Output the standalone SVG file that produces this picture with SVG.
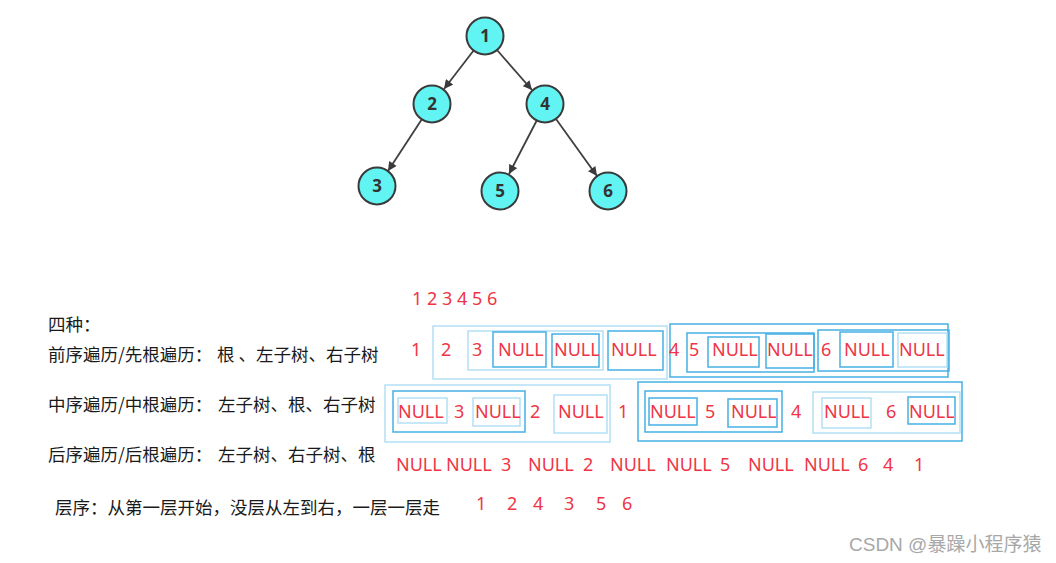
<svg xmlns="http://www.w3.org/2000/svg" width="1056" height="563" viewBox="0 0 1056 563">
<defs>
<marker id="ah" viewBox="0 0 10 10" refX="10" refY="5" markerWidth="10" markerHeight="9" markerUnits="userSpaceOnUse" orient="auto">
<path d="M0,0 L10,5 L0,10 z" fill="#3a3a3a"/>
</marker>
</defs>
<style>
.node circle{fill:#62f3f3;stroke:#3a3a3a;stroke-width:2}
.node text{font-family:"Open Sans","Noto Sans",sans-serif;font-weight:bold;font-size:17px;fill:#333;text-anchor:middle}
.edge{stroke:#3f3f3f;stroke-width:1.8;fill:none;marker-end:url(#ah)}
.lb{fill:none;stroke:#b2e0f5;stroke-width:1.5}
.bb{fill:none;stroke:#45b0e4;stroke-width:1.5}
.r{font-family:"Noto Sans","Open Sans",sans-serif;font-size:18px;fill:#ef3545}
.k{font-family:"Noto Sans CJK SC","Noto Sans",sans-serif;font-size:17.5px;fill:#1a1a1a}
.wm{font-family:"Liberation Sans","Noto Sans CJK SC",sans-serif;font-size:19px;fill:#a8a8a8}
</style>
<rect width="1056" height="563" fill="#ffffff"/>
<g id="connectors">
<line class="edge" x1="474" y1="50" x2="444" y2="89"/>
<line class="edge" x1="497" y1="50" x2="532" y2="90"/>
<line class="edge" x1="422" y1="119" x2="388" y2="171"/>
<line class="edge" x1="537" y1="120" x2="509" y2="174"/>
<line class="edge" x1="556" y1="119" x2="597" y2="176"/>
</g>
<g id="n1" class="node"><circle cx="485" cy="36" r="18.5"/><text x="485" y="42">1</text></g>
<g id="n2" class="node"><circle cx="432" cy="104" r="18.5"/><text x="432" y="110">2</text></g>
<g id="n4" class="node"><circle cx="545" cy="104" r="18.5"/><text x="545" y="110">4</text></g>
<g id="n3" class="node"><circle cx="377" cy="186" r="18.5"/><text x="377" y="192">3</text></g>
<g id="n5" class="node"><circle cx="500" cy="191" r="18.5"/><text x="500" y="197">5</text></g>
<g id="n6" class="node"><circle cx="608" cy="191" r="18.5"/><text x="608" y="197">6</text></g>
<g id="labels">
<text class="k" x="48" y="331">四种：</text>
<text class="k" x="48" y="361">前序遍历/先根遍历：</text>
<text class="k" x="217" y="361">根 、左子树、右子树</text>
<text class="k" x="48" y="411">中序遍历/中根遍历：</text>
<text class="k" x="218" y="411">左子树、根、右子树</text>
<text class="k" x="48" y="461">后序遍历/后根遍历：</text>
<text class="k" x="218" y="461">左子树、右子树、根</text>
<text class="k" x="55" y="514">层序：从第一层开始，没层从左到右，一层一层走</text>
</g>
<g id="boxes">
<rect class="lb" x="433" y="326" width="234" height="53"/>
<rect class="lb" x="468" y="331" width="135" height="39"/>
<rect class="bb" x="493" y="332" width="53" height="35"/>
<rect class="bb" x="552" y="334" width="47" height="33"/>
<rect class="bb" x="608" y="331" width="55" height="39"/>
<rect class="bb" x="670" y="324" width="278" height="53"/>
<rect class="bb" x="687" y="333" width="127" height="39"/>
<rect class="bb" x="708" y="337" width="51" height="30"/>
<rect class="bb" x="766" y="334" width="48" height="34"/>
<rect class="bb" x="818" y="330" width="131" height="41"/>
<rect class="bb" x="840" y="332" width="53" height="35"/>
<rect class="lb" x="898" y="333" width="49" height="34"/>
<rect class="lb" x="385" y="385" width="225" height="57"/>
<rect class="bb" x="393" y="391" width="132" height="41"/>
<rect class="lb" x="398" y="398" width="49" height="25"/>
<rect class="lb" x="473" y="398" width="47" height="28"/>
<rect class="lb" x="554" y="395" width="53" height="38"/>
<rect class="bb" x="638" y="382" width="324" height="59"/>
<rect class="bb" x="645" y="391" width="137" height="41"/>
<rect class="bb" x="649" y="398" width="48" height="27"/>
<rect class="bb" x="728" y="399" width="49" height="28"/>
<rect class="lb" x="813" y="392" width="147" height="41"/>
<rect class="lb" x="822" y="398" width="49" height="30"/>
<rect class="bb" x="908" y="397" width="47" height="27"/>
</g>
<g id="sequences">
<text class="r" x="412" y="305">1 2 3 4 5 6</text>
<text class="r" x="411" y="356">1</text>
<text class="r" x="441" y="356">2</text>
<text class="r" x="472" y="356">3</text>
<text class="r" x="498" y="356">NULL</text>
<text class="r" x="554" y="356">NULL</text>
<text class="r" x="611" y="356">NULL</text>
<text class="r" x="669" y="356">4</text>
<text class="r" x="689" y="356">5</text>
<text class="r" x="712" y="356">NULL</text>
<text class="r" x="767" y="356">NULL</text>
<text class="r" x="821" y="356">6</text>
<text class="r" x="844" y="356">NULL</text>
<text class="r" x="899" y="356">NULL</text>
<text class="r" x="398" y="418">NULL</text>
<text class="r" x="454" y="418">3</text>
<text class="r" x="475" y="418">NULL</text>
<text class="r" x="530" y="418">2</text>
<text class="r" x="558" y="418">NULL</text>
<text class="r" x="618" y="418">1</text>
<text class="r" x="650" y="418">NULL</text>
<text class="r" x="705" y="418">5</text>
<text class="r" x="731" y="418">NULL</text>
<text class="r" x="791" y="418">4</text>
<text class="r" x="824" y="418">NULL</text>
<text class="r" x="886" y="418">6</text>
<text class="r" x="909" y="418">NULL</text>
<text class="r" x="396" y="471">NULL</text>
<text class="r" x="446" y="471">NULL</text>
<text class="r" x="501" y="471">3</text>
<text class="r" x="528" y="471">NULL</text>
<text class="r" x="583" y="471">2</text>
<text class="r" x="610" y="471">NULL</text>
<text class="r" x="666" y="471">NULL</text>
<text class="r" x="720" y="471">5</text>
<text class="r" x="748" y="471">NULL</text>
<text class="r" x="804" y="471">NULL</text>
<text class="r" x="858" y="471">6</text>
<text class="r" x="883" y="471">4</text>
<text class="r" x="914" y="471">1</text>
<text class="r" x="476" y="510">1</text>
<text class="r" x="507" y="510">2</text>
<text class="r" x="533" y="510">4</text>
<text class="r" x="564" y="510">3</text>
<text class="r" x="596" y="510">5</text>
<text class="r" x="622" y="510">6</text>
</g>
<text class="wm" x="849" y="551">CSDN @暴躁小程序猿</text>
</svg>
